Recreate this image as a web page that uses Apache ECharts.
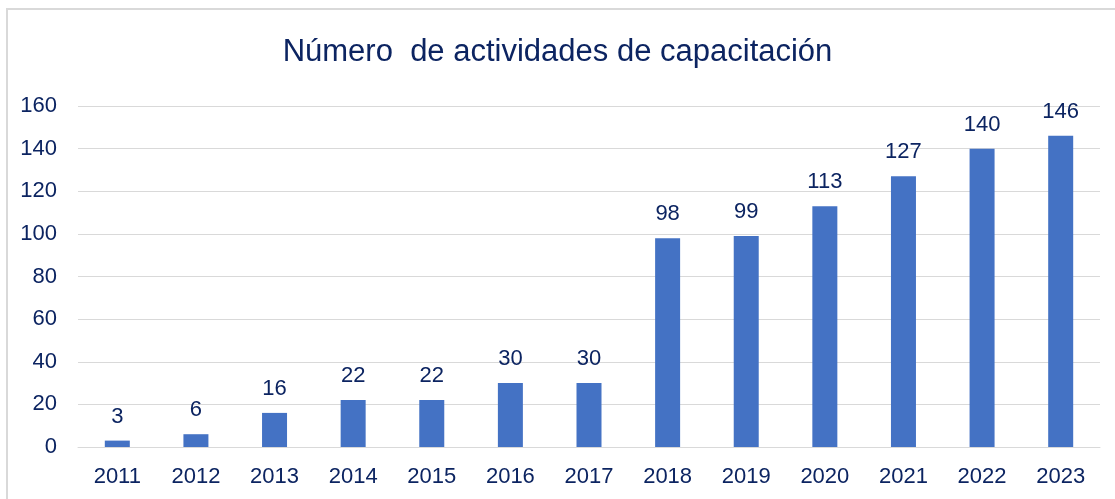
<!DOCTYPE html>
<html>
<head>
<meta charset="utf-8">
<script src="https://cdn.jsdelivr.net/npm/echarts@6/dist/echarts.min.js"></script>
<style>
  html, body { margin: 0; padding: 0; background: #fff; }
  #chart { width: 1115px; height: 499px; }
</style>
</head>
<body>
<div id="chart"></div>
<script>
  // datos
  var years = ['2011', '2012', '2013', '2014', '2015', '2016', '2017', '2018', '2019', '2020', '2021', '2022', '2023'];
  var actividades = [3, 6, 16, 22, 22, 30, 30, 98, 99, 113, 127, 140, 146];
  var titulo = 'Número  de actividades de capacitación';

  var fuente = '"Liberation Sans Narrow", "Arial Narrow", "Liberation Sans", sans-serif';
  var azulOscuro = '#0c2461';

  var myChart = echarts.init(document.getElementById('chart'));
  myChart.setOption({
    backgroundColor: '#fff',
    animation: false,
    title: {
      text: titulo,
      left: 'center',
      top: 32,
      textStyle: { fontFamily: fuente, fontSize: 31, fontWeight: 'normal', color: azulOscuro }
    },
    graphic: [{
      type: 'rect',
      shape: { x: 7, y: 9, width: 1200, height: 600 },
      style: { fill: 'none', stroke: '#d9d9d9', lineWidth: 2 },
      silent: true
    }],
    grid: { left: 78, right: 15, top: 106, bottom: 52 },
    xAxis: {
      type: 'category',
      data: years,
      axisTick: { show: false },
      axisLine: { show: true, lineStyle: { color: '#d9d9d9', width: 1 } },
      axisLabel: { fontFamily: fuente, fontSize: 22, color: azulOscuro, margin: 19 }
    },
    yAxis: {
      type: 'value',
      min: 0,
      max: 160,
      interval: 20,
      axisLine: { show: false },
      axisTick: { show: false },
      splitLine: { lineStyle: { color: '#d9d9d9', width: 1 } },
      axisLabel: { fontFamily: fuente, fontSize: 22, color: azulOscuro, margin: 21 }
    },
    series: [{
      type: 'bar',
      data: actividades,
      barWidth: 25,
      itemStyle: { color: '#4472c4' },
      label: {
        show: true,
        position: 'top',
        distance: 13,
        fontFamily: fuente,
        fontSize: 22,
        color: azulOscuro
      }
    }]
  });
</script>
</body>
</html>
